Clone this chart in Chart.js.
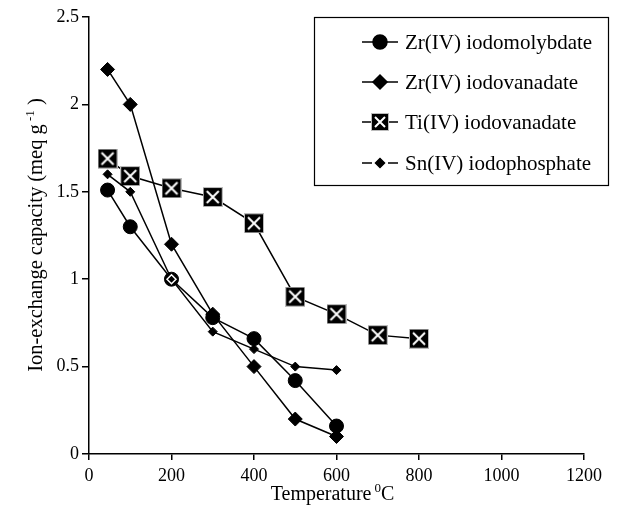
<!DOCTYPE html>
<html>
<head>
<meta charset="utf-8">
<script src="https://cdn.jsdelivr.net/npm/chart.js@4/dist/chart.umd.min.js"></script>
<style>
html,body{margin:0;padding:0;background:#fff;}
#wrap{width:620px;height:513px;}
</style>
</head>
<body>
<div id="wrap"><canvas id="c" width="620" height="513"></canvas></div>
<script>
// ---- data ----
const seriesNames = ['Zr(IV) iodomolybdate', 'Zr(IV) iodovanadate', 'Ti(IV) iodovanadate', 'Sn(IV) iodophosphate'];
const temps = [45, 100, 200, 300, 400, 500, 600];
const tiTemps = [45, 100, 200, 300, 400, 500, 600, 700, 800];
const zrMolybdate = [1.51, 1.30, 1.00, 0.78, 0.66, 0.42, 0.16];
const zrVanadate = [2.20, 2.00, 1.20, 0.80, 0.50, 0.20, 0.10];
const tiVanadate = [1.69, 1.59, 1.52, 1.47, 1.32, 0.90, 0.80, 0.68, 0.66];
const snPhosphate = [1.60, 1.50, 1.00, 0.70, 0.60, 0.50, 0.48];
const xTicks = [0, 200, 400, 600, 800, 1000, 1200];
const yTicks = [0, 0.5, 1, 1.5, 2, 2.5];

const FONT = '"Liberation Serif", "Times New Roman", serif';

function pts(xs, ys) { return xs.map((x, i) => ({x: x, y: ys[i]})); }

// square marker with white X
function makeBoxX(size) {
  const c = document.createElement('canvas');
  c.width = size; c.height = size;
  const g = c.getContext('2d');
  g.fillStyle = '#bbb';
  g.fillRect(0, 0, size, size);
  g.fillStyle = '#000';
  g.fillRect(1, 1, size - 2, size - 2);
  g.strokeStyle = '#fff';
  g.lineWidth = 2;
  g.beginPath();
  g.moveTo(4, 4); g.lineTo(size - 4, size - 4);
  g.moveTo(size - 4, 4); g.lineTo(4, size - 4);
  g.stroke();
  return c;
}
const boxX = makeBoxX(20);
const boxXSmall = makeBoxX(18);

const datasets = [
  {label: seriesNames[0], data: pts(temps, zrMolybdate), pointStyle: 'circle', pointRadius: 7, order: 2},
  {label: seriesNames[1], data: pts(temps, zrVanadate), pointStyle: 'rectRot', pointRadius: 7, order: 3},
  {label: seriesNames[2], data: pts(tiTemps, tiVanadate), pointStyle: boxX, pointRadius: 10, order: 4},
  {label: seriesNames[3], data: pts(temps, snPhosphate), pointStyle: 'rectRot', pointRadius: 4.5, order: 1,
   pointBorderColor: (ctx) => ctx.dataIndex === 2 ? '#fff' : '#000',
   pointBorderWidth: (ctx) => ctx.dataIndex === 2 ? 1.5 : 1}
].map(d => Object.assign({
  showLine: true,
  borderColor: '#000',
  backgroundColor: '#000',
  borderWidth: 1.5,
  pointBackgroundColor: '#000',
  pointBorderColor: '#000',
  pointBorderWidth: 1,
  tension: 0
}, d));

const legendPlugin = {
  id: 'boxLegend',
  afterDraw(chart) {
    const ctx = chart.ctx;
    ctx.save();
    const bx = 314, by = 17, bw = 294, bh = 168;
    ctx.fillStyle = '#fff';
    ctx.fillRect(bx, by, bw, bh);
    ctx.strokeStyle = '#000';
    ctx.lineWidth = 1.2;
    ctx.strokeRect(bx + 0.5, by + 0.5, bw, bh);
    const rows = [42, 82, 122, 163];
    chart.data.datasets.forEach((ds, i) => {
      const y = rows[i];
      ctx.strokeStyle = '#000';
      ctx.lineWidth = 1.5;
      ctx.beginPath();
      if (i === 3) {
        ctx.moveTo(362, y); ctx.lineTo(372, y);
        ctx.moveTo(388, y); ctx.lineTo(398, y);
      } else {
        ctx.moveTo(362, y); ctx.lineTo(398, y);
      }
      ctx.stroke();
      ctx.fillStyle = '#000';
      if (i === 2) {
        ctx.drawImage(boxXSmall, 380 - 9, y - 9);
      } else {
        Chart.helpers.drawPoint(ctx, {pointStyle: ds.pointStyle, radius: ds.pointRadius, borderWidth: 1, rotation: 0}, 380, y);
        ctx.fill();
      }
      ctx.fillStyle = '#000';
      ctx.font = '21px ' + FONT;
      ctx.textAlign = 'left';
      ctx.textBaseline = 'middle';
      ctx.fillText(ds.label, 405, y + 1);
    });
    ctx.restore();
  }
};

const titlePlugin = {
  id: 'axisTitles',
  afterDraw(chart) {
    const ctx = chart.ctx;
    const ca = chart.chartArea;
    ctx.save();
    ctx.fillStyle = '#000';
    ctx.textBaseline = 'alphabetic';
    // x title with superscript
    const main = '20px ' + FONT, sup = '13px ' + FONT;
    const xParts = [['Temperature', main, 0], ['0', sup, -8], ['C', main, 0]];
    let w = 0;
    xParts.forEach(p => { ctx.font = p[1]; w += ctx.measureText(p[0]).width; });
    w += 3;
    let x = (ca.left + ca.right) / 2 - w / 2 - 4;
    const yb = 500;
    ctx.textAlign = 'left';
    xParts.forEach((p, i) => {
      ctx.font = p[1];
      ctx.fillText(p[0], x, yb + p[2]);
      x += ctx.measureText(p[0]).width + (i === 0 ? 3 : 0);
    });
    // y title rotated with superscript
    const ymain = '20.5px ' + FONT;
    const yParts = [['Ion-exchange capacity (meq g', ymain, 0], [' -1', sup, -8], [' )', ymain, 0]];
    let h = 0;
    yParts.forEach(p => { ctx.font = p[1]; h += ctx.measureText(p[0]).width; });
    ctx.translate(42, 235);
    ctx.rotate(-Math.PI / 2);
    let t = -h / 2;
    yParts.forEach(p => {
      ctx.font = p[1];
      ctx.fillText(p[0], t, p[2]);
      t += ctx.measureText(p[0]).width;
    });
    ctx.restore();
  }
};

new Chart(document.getElementById('c'), {
  type: 'scatter',
  data: {datasets: datasets},
  plugins: [titlePlugin, legendPlugin],
  options: {
    responsive: false,
    animation: false,
    layout: {padding: {left: 0, right: 36, top: 17, bottom: 0}},
    plugins: {legend: {display: false}, tooltip: {enabled: false}, title: {display: false}},
    scales: {
      x: {
        type: 'linear', min: xTicks[0], max: xTicks[xTicks.length - 1],
        afterBuildTicks: (s) => { s.ticks = xTicks.map(v => ({value: v})); },
        ticks: {color: '#000', font: {family: FONT, size: 18}, padding: 5, maxRotation: 0, autoSkip: false,
                callback: (v) => String(v)},
        grid: {drawOnChartArea: false, drawTicks: true, tickLength: 6, color: '#000', lineWidth: 1.5},
        border: {display: true, color: '#000', width: 1.5},
        afterFit: (s) => { s.height = 59; }
      },
      y: {
        type: 'linear', min: yTicks[0], max: yTicks[yTicks.length - 1],
        afterBuildTicks: (s) => { s.ticks = yTicks.map(v => ({value: v})); },
        ticks: {color: '#000', font: {family: FONT, size: 18}, padding: 3, autoSkip: false,
                callback: (v) => String(v)},
        grid: {drawOnChartArea: false, drawTicks: true, tickLength: 7, color: '#000', lineWidth: 1.5},
        border: {display: true, color: '#000', width: 1.5},
        afterFit: (s) => { s.width = 89; }
      }
    }
  }
});
</script>
</body>
</html>
